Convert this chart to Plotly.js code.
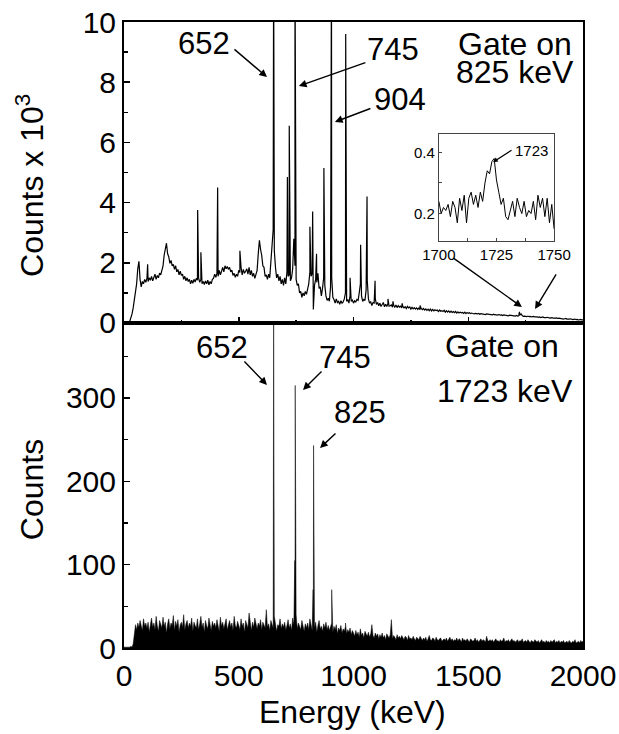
<!DOCTYPE html>
<html>
<head>
<meta charset="utf-8">
<script src="https://cdn.plot.ly/plotly-3.0.1.min.js"></script>
<style>html,body{margin:0;padding:0;background:#fff;}#chart{width:619px;height:734px;}</style>
</head>
<body>
<div id="chart"></div>
<script>
// ---------- DATA ----------
// channel grid: energies start at 0 keV, one value every 5 keV up to 2000 keV
const energyStart = 0;
const energyStep = 5;

// Upper spectrum: gate on 825 keV, background continuum (counts x 10^3)
const gate825Background = [
  0,0,0,0,0,0.05,0.15,0.3,0.5,0.75,1.0,1.3,1.8,2.05,1.45,1.2,1.38,1.3,1.45,1.35,
  1.48,1.38,1.5,1.42,1.55,1.4,1.52,1.62,1.45,1.58,1.5,1.66,1.6,1.78,1.9,2.25,2.4,2.65,2.3,2.2,
  1.98,2.08,1.9,1.95,1.78,1.9,1.7,1.78,1.6,1.72,1.58,1.62,1.45,1.55,1.4,1.5,1.38,1.45,1.3,1.42,
  1.32,1.45,1.36,1.48,1.42,1.5,1.35,1.45,1.3,1.38,1.28,1.4,1.3,1.42,1.27,1.38,1.3,1.45,1.48,1.62,
  1.52,1.65,1.55,1.75,1.6,1.72,1.85,1.7,1.9,1.8,1.88,1.78,1.85,1.7,1.76,1.58,1.65,1.52,1.62,1.55,
  1.75,1.68,1.85,1.6,1.78,1.65,1.72,1.8,1.62,1.85,1.6,1.75,1.55,1.65,1.48,1.62,1.75,2.3,2.75,2.45,
  2.25,1.9,1.85,1.55,1.6,1.45,1.62,1.5,2.0,2.6,3.1,2.4,1.85,1.5,1.62,1.4,1.55,1.3,1.45,1.25,
  1.5,1.3,1.7,1.55,1.6,1.4,1.5,1.8,2.8,1.9,1.45,1.25,1.3,1.0,1.05,0.85,1.0,0.9,1.05,0.95,
  1.15,1.3,1.7,1.55,1.65,0.45,1.25,1.45,1.35,1.65,1.15,1.2,0.9,1.15,1.5,1.25,0.9,0.75,0.82,0.72,
  1.2,1.5,0.85,0.78,0.66,0.8,0.68,0.72,0.62,0.74,0.66,0.7,0.8,1.0,0.72,0.78,0.66,0.9,0.72,0.76,
  0.66,0.74,0.7,0.78,0.75,1.0,1.3,0.9,0.72,0.78,0.75,1.1,1.4,0.8,0.66,0.7,0.58,0.68,0.66,0.8,
  0.62,0.68,0.57,0.66,0.55,0.63,0.68,0.54,0.62,0.55,0.64,0.56,0.57,0.6,0.52,0.59,0.53,0.6,0.51,0.58,
  0.53,0.56,0.5,0.55,0.5,0.54,0.48,0.55,0.5,0.53,0.46,0.52,0.47,0.51,0.46,0.5,0.45,0.5,0.44,0.48,
  0.44,0.48,0.43,0.47,0.42,0.46,0.41,0.46,0.4,0.45,0.4,0.44,0.41,0.43,0.38,0.43,0.39,0.41,0.38,0.42,
  0.36,0.41,0.36,0.4,0.35,0.39,0.35,0.38,0.34,0.38,0.33,0.37,0.33,0.36,0.34,0.35,0.32,0.36,0.31,0.35,
  0.32,0.34,0.31,0.33,0.32,0.3,0.32,0.31,0.3,0.32,0.29,0.31,0.3,0.29,0.3,0.28,0.3,0.29,0.28,0.29,
  0.28,0.27,0.29,0.27,0.28,0.26,0.27,0.28,0.26,0.27,0.25,0.27,0.26,0.25,0.26,0.24,0.26,0.25,0.24,0.25,
  0.24,0.23,0.25,0.23,0.24,0.26,0.3,0.25,0.22,0.23,0.22,0.21,0.23,0.21,0.22,0.2,0.21,0.22,0.2,0.21,
  0.2,0.19,0.2,0.18,0.19,0.2,0.18,0.17,0.18,0.19,0.17,0.16,0.17,0.18,0.16,0.15,0.16,0.17,0.15,0.16,
  0.15,0.14,0.15,0.13,0.14,0.15,0.13,0.12,0.13,0.14,0.12,0.11,0.12,0.13,0.11,0.12,0.1,0.11,0.12,0.1,
  0.1
];
// Upper spectrum: sharp gamma lines (keV, counts x 10^3)
const gate825PeakEnergies = [103,321,335,408,505,652,712,720,745,810,822,839,871,904,966,985,1031,1059,1094,1150,1172,1212,1290,1723];
const gate825PeakHeights  = [1.95,3.75,2.35,4.5,2.4,12,4.85,6.55,12,3.2,3.7,2.3,5.15,12,9.6,1.5,2.6,4.2,1.4,0.8,0.72,0.65,0.58,0.37];

// Lower spectrum: gate on 1723 keV, background (counts)
const gate1723Background = [
  1,1,1,1,1,1,2,1,5,20,28,22,30,25,33,27,21,35,26,30,
  24,31,19,28,36,25,30,22,38,27,20,33,29,24,37,26,31,18,29,35,
  23,30,27,39,21,32,26,34,19,28,31,25,40,22,29,33,24,30,26,36,
  20,31,27,24,35,22,29,38,25,30,19,33,27,23,36,28,21,32,26,30,
  24,34,28,20,37,26,31,23,29,35,22,27,33,25,30,21,38,27,24,32,
  28,22,35,26,30,19,33,29,24,42,27,21,31,25,36,28,23,30,26,34,
  22,31,27,24,46,25,29,21,33,27,24,38,30,20,28,26,35,23,29,25,
  31,22,27,34,24,29,21,36,28,25,40,23,30,26,22,33,27,20,29,24,
  30,22,35,26,21,28,24,31,19,27,33,23,26,20,29,24,31,22,27,21,
  25,30,19,26,22,28,17,24,21,27,18,23,20,26,17,22,19,24,16,21,
  18,14,21,16,19,13,23,15,18,12,20,16,14,19,13,17,28,15,12,18,
  14,17,11,16,13,18,12,15,10,17,14,12,16,34,11,15,13,10,16,12,
  14,11,15,12,10,14,13,9,15,11,12,10,14,11,9,13,11,10,14,12,
  9,12,10,13,8,11,15,10,9,12,11,8,13,10,9,11,12,8,10,11,
  9,12,8,10,13,9,11,8,10,9,12,8,11,10,7,12,9,10,8,11,
  9,7,11,10,8,9,12,8,10,7,9,11,8,10,9,7,14,9,8,10,
  8,10,7,9,11,8,9,7,10,8,9,12,7,9,8,10,7,9,11,8,
  9,7,8,10,7,9,8,11,7,8,9,7,10,8,6,9,8,7,10,8,
  7,9,6,8,10,7,8,6,9,7,8,6,9,7,8,10,6,8,7,9,
  6,8,7,9,6,7,8,6,9,7,6,8,7,10,6,7,8,6,9,7,
  8
];
const gate1723PeakEnergies = [651,652,744,746,824,826,905,965];
const gate1723PeakHeights  = [200,420,105,315,70,243,70,30];

// Inset: 1700-1750 keV region of the 825 keV gate (counts x 10^3), 1 keV channels
const insetStart = 1700;
const insetStep = 1;
const insetCounts = [
  0.24,0.20,0.22,0.21,0.23,0.19,0.24,0.22,0.17,0.25,
  0.21,0.26,0.17,0.25,0.27,0.23,0.26,0.22,0.27,0.24,
  0.30,0.34,0.33,0.37,0.38,0.31,0.27,0.23,0.25,0.19,
  0.18,0.21,0.24,0.19,0.25,0.22,0.20,0.24,0.19,0.21,
  0.20,0.24,0.18,0.26,0.22,0.25,0.19,0.25,0.17,0.23,
  0.15
];

// ---------- BUILD ----------
function spectrum(bg, start, step, pe, ph) {
  const pts = bg.map((v, i) => [start + i * step, v, 0]);
  pe.forEach((e, i) => pts.push([e, ph[i], 1]));
  pts.sort((a, b) => (a[0] - b[0]) || (a[2] - b[2]));
  return { x: pts.map(p => p[0]), y: pts.map(p => p[1]) };
}
const specUpper = spectrum(gate825Background, energyStart, energyStep, gate825PeakEnergies, gate825PeakHeights);
const specLower = spectrum(gate1723Background, energyStart, energyStep, gate1723PeakEnergies, gate1723PeakHeights);
const insetX = insetCounts.map((v, i) => insetStart + i * insetStep);

const FONT = 'Liberation Sans, Arial, Helvetica, sans-serif';

const traces = [
  { x: specUpper.x, y: specUpper.y, xaxis: 'x', yaxis: 'y', type: 'scatter', mode: 'lines',
    line: { color: '#000', width: 1.2 }, hoverinfo: 'skip' },
  { x: specLower.x, y: specLower.y, xaxis: 'x2', yaxis: 'y2', type: 'scatter', mode: 'lines',
    fill: 'tozeroy', fillcolor: '#000', line: { color: '#000', width: 0.5 }, hoverinfo: 'skip' },
  { x: insetX, y: insetCounts, xaxis: 'x3', yaxis: 'y3', type: 'scatter', mode: 'lines',
    line: { color: '#000', width: 1 }, hoverinfo: 'skip' }
];

const axBase = {
  showline: true, linecolor: '#000', linewidth: 2, mirror: true,
  ticks: 'inside', ticklen: 6, tickwidth: 1.5, tickcolor: '#000',
  showgrid: false, zeroline: false,
  tickfont: { family: FONT, size: 30, color: '#000' }
};

const yTopDomain = [0.5192, 1];
const yBotDomain = [0, 0.5192];

function arrow(xref, yref, x, y, ax, ay) {
  return { xref, yref, x, y, ax, ay, text: '', showarrow: true,
    arrowhead: 2, arrowsize: 1.1, arrowwidth: 1.4, arrowcolor: '#000' };
}
function label(xref, yref, x, y, text, size, xanchor) {
  return { xref, yref, x, y, text, showarrow: false, xanchor: xanchor || 'center', yanchor: 'middle',
    font: { family: FONT, size: size, color: '#000' } };
}

const annotations = [
  // axis titles
  { xref: 'paper', yref: 'paper', x: -0.205, y: 0.7396, text: 'Counts x 10<sup>3</sup>', textangle: -90,
    showarrow: false, xanchor: 'center', yanchor: 'middle', font: { family: FONT, size: 32, color: '#000' } },
  { xref: 'paper', yref: 'paper', x: -0.2, y: 0.2524, text: 'Counts', textangle: -90,
    showarrow: false, xanchor: 'center', yanchor: 'middle', font: { family: FONT, size: 32, color: '#000' } },
  { xref: 'paper', yref: 'paper', x: 0.497, y: -0.102, text: 'Energy (keV)',
    showarrow: false, xanchor: 'center', yanchor: 'middle', font: { family: FONT, size: 32, color: '#000' } },

  // top panel labels
  label('x', 'y', 349, 9.3, '652', 31),
  arrow('x', 'y', 623, 8.17, -34, -29),
  label('x', 'y', 1172, 9.07, '745', 31),
  arrow('x', 'y', 762, 7.87, 68, -24),
  label('x', 'y', 1203, 7.41, '904', 31),
  arrow('x', 'y', 919, 6.68, 37, -14),
  label('x', 'y', 1960, 9.28, 'Gate on', 32, 'right'),
  label('x', 'y', 1968, 8.33, '825 keV', 32, 'right'),
  arrow('x', 'y', 1734, 0.53, -70, -50),
  arrow('x', 'y', 1791, 0.465, 22, -36),

  // inset label
  { xref: 'x3', yref: 'y3', x: 1740, y: 0.407, text: '1723', showarrow: false, xanchor: 'center', yanchor: 'middle',
    font: { family: FONT, size: 15, color: '#000' } },
  { xref: 'x3', yref: 'y3', x: 1723.5, y: 0.368, ax: 20, ay: -13, text: '', showarrow: true,
    arrowhead: 2, arrowsize: 0.8, arrowwidth: 1.2, arrowcolor: '#000' },

  // bottom panel labels
  label('x2', 'y2', 427, 360, '652', 31),
  arrow('x2', 'y2', 623, 315.6, -24, -25),
  label('x2', 'y2', 963, 349, '745', 31),
  arrow('x2', 'y2', 780, 309.6, 20, -20),
  label('x2', 'y2', 1028, 282, '825', 31),
  arrow('x2', 'y2', 854, 240, 17, -16),
  label('x2', 'y2', 1647, 362, 'Gate on', 32),
  label('x2', 'y2', 1660, 308, '1723 keV', 32)
];

const layout = {
  width: 619, height: 734,
  margin: { l: 124, r: 36, t: 22, b: 86 },
  paper_bgcolor: '#fff', plot_bgcolor: '#fff',
  showlegend: false, hovermode: false,
  font: { family: FONT, color: '#000' },
  xaxis: Object.assign({}, axBase, { domain: [0, 1], anchor: 'y', range: [0, 2000], dtick: 500, tick0: 0,
    showticklabels: false, minor: { dtick: 250, ticklen: 3, ticks: 'inside', tickcolor: '#000' } }),
  yaxis: Object.assign({}, axBase, { domain: yTopDomain, anchor: 'x', range: [0, 10], dtick: 2, tick0: 0,
    minor: { dtick: 1, ticklen: 4, ticks: 'inside', tickcolor: '#000' } }),
  xaxis2: Object.assign({}, axBase, { domain: [0, 1], anchor: 'y2', range: [0, 2000], dtick: 500, tick0: 0,
    minor: { dtick: 250, ticklen: 3, ticks: 'inside', tickcolor: '#000' } }),
  yaxis2: Object.assign({}, axBase, { domain: yBotDomain, anchor: 'x2', range: [0, 390], dtick: 100, tick0: 0,
    minor: { dtick: 50, ticklen: 4, ticks: 'inside', tickcolor: '#000' } }),
  xaxis3: { domain: [0.686, 0.937], anchor: 'y3', range: [1700, 1750], dtick: 25, tick0: 1700,
    showline: true, mirror: true, linecolor: '#444', linewidth: 1, ticks: 'inside', ticklen: 3, tickcolor: '#444',
    minor: { dtick: 12.5, ticklen: 3, ticks: 'inside', tickcolor: '#444' },
    showgrid: false, zeroline: false, tickfont: { family: FONT, size: 15, color: '#000' } },
  yaxis3: { domain: [0.650, 0.821], anchor: 'x3', range: [0.11, 0.46], dtick: 0.2, tick0: 0,
    showline: true, mirror: true, linecolor: '#444', linewidth: 1, ticks: 'inside', ticklen: 3, tickcolor: '#444',
    minor: { dtick: 0.1, ticklen: 3, ticks: 'inside', tickcolor: '#444' },
    showgrid: false, zeroline: false, tickfont: { family: FONT, size: 15, color: '#000' } },
  annotations: annotations
};

Plotly.newPlot('chart', traces, layout, { staticPlot: true, displayModeBar: false });
</script>
</body>
</html>
